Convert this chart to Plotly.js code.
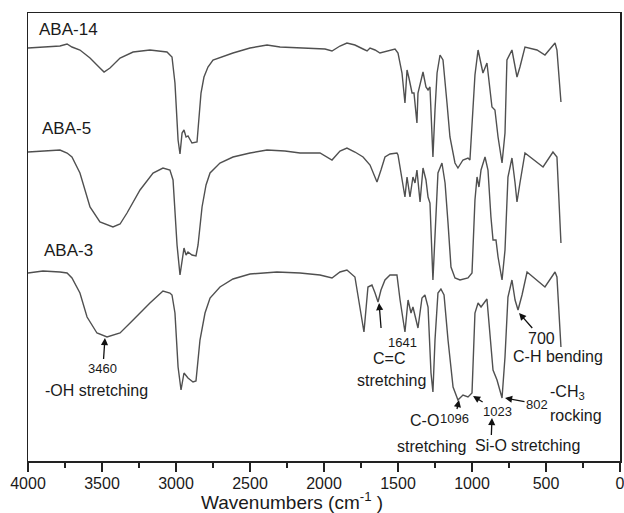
<!DOCTYPE html>
<html>
<head>
<meta charset="utf-8">
<script src="https://cdn.plot.ly/plotly-3.0.1.min.js"></script>
<style>
html,body{margin:0;padding:0;background:#fff;}
#chart{width:624px;height:513px;}
</style>
</head>
<body>
<div id="chart"></div>
<script>
// Wavenumbers (cm-1) and offset transmittance values (arbitrary units)
const wn14 = [4000,3851,3784,3736,3703,3649,3581,3514,3486,3446,3378,3290,3176,3061,3027,3007,2993,2986,2973,2959,2946,2932,2919,2892,2858,2845,2831,2811,2784,2750,2615,2500,2385,2297,2162,2061,1993,1946,1892,1845,1791,1736,1709,1689,1655,1622,1574,1520,1500,1473,1453,1439,1426,1405,1392,1372,1365,1351,1331,1311,1297,1284,1264,1250,1236,1216,1196,1169,1149,1115,1095,1061,1027,1014,993,980,959,926,899,865,845,824,797,777,764,730,696,676,642,561,507,439,426,399];
const aba14 = [413,414,415,417,414,411,403,393,389,393,403,409,411,409,404,378,344,321,307,328,331,324,325,318,319,344,368,384,394,401,408,413,416,414,413,413,412,410,415,418,416,412,410,413,411,408,410,412,408,388,358,391,383,368,368,338,368,378,389,374,371,374,304,351,388,406,401,358,324,298,293,301,303,301,354,386,411,388,398,354,351,324,298,328,401,411,384,394,414,411,406,418,411,359];

const wn5 = [4000,3851,3784,3736,3703,3649,3615,3581,3514,3426,3378,3331,3243,3155,3088,3041,3020,3007,2993,2973,2959,2946,2932,2919,2892,2865,2851,2838,2824,2797,2770,2703,2615,2500,2385,2264,2162,2027,1946,1892,1845,1791,1736,1689,1642,1615,1588,1554,1507,1500,1473,1453,1439,1419,1399,1385,1372,1351,1331,1311,1297,1284,1264,1250,1230,1203,1182,1162,1142,1115,1081,1027,1000,980,966,953,939,912,892,872,858,838,824,797,777,757,730,709,696,676,642,520,453,426,399];
const aba5 = [309,310,311,308,304,288,271,254,239,234,237,248,271,288,293,291,281,251,216,186,201,213,206,209,206,205,216,236,254,276,288,298,304,308,311,310,308,308,301,310,313,309,304,296,279,291,304,307,308,306,284,264,284,264,284,278,291,259,293,281,264,258,181,228,288,298,278,238,194,183,181,183,188,261,284,274,291,304,291,244,221,221,204,181,211,284,303,278,259,278,308,294,309,304,218];

const wn3 = [4000,3899,3784,3736,3703,3649,3601,3534,3466,3378,3290,3176,3088,3041,3027,3007,2986,2966,2946,2919,2885,2865,2838,2804,2770,2703,2615,2500,2318,2162,2027,1946,1892,1845,1791,1757,1730,1703,1676,1655,1635,1615,1588,1554,1507,1486,1453,1432,1412,1399,1385,1365,1338,1318,1297,1277,1264,1250,1230,1210,1189,1162,1128,1095,1061,1027,1000,980,959,939,899,878,858,831,797,777,757,730,709,689,662,628,588,507,439,426,399];
const aba3 = [188,190,189,188,183,168,144,128,124,128,141,158,170,168,166,148,94,71,88,83,79,80,121,148,163,174,182,187,189,188,186,183,189,191,184,154,129,174,176,168,159,171,181,186,186,161,129,161,148,154,146,133,163,166,154,88,69,121,168,172,166,121,74,61,66,64,68,148,158,154,162,121,91,81,63,104,164,181,161,151,166,189,184,174,189,184,114];

const seriesNames = ["ABA-14","ABA-5","ABA-3"];
const xTickVals = [4000,3500,3000,2500,2000,1500,1000,500,0];
const xTickText = ["4000","3500","3000","2500","2000","1500","1000","500","0"];
const xTitle = "Wavenumbers (cm<sup>-1</sup> )";

const FONT = 'Arial, "Liberation Sans", sans-serif';
const TXT = '#1a1a1a';
const lineStyle = {color:'#505050', width:1.4};

const traces = [
  {x: wn14, y: aba14, name: seriesNames[0], type:'scatter', mode:'lines', line: lineStyle},
  {x: wn5,  y: aba5,  name: seriesNames[1], type:'scatter', mode:'lines', line: lineStyle},
  {x: wn3,  y: aba3,  name: seriesNames[2], type:'scatter', mode:'lines', line: lineStyle}
];

function txt(x, y, text, size, xanchor){
  return {x:x, y:y, xref:'x', yref:'y', text:text, showarrow:false,
          font:{family:FONT, size:size, color:TXT}, xanchor:xanchor||'center', yanchor:'middle'};
}
// label attached to an arrow: arrow head at (x,y), label offset (ax, ay) in pixels
function arrLabel(x, y, ax, ay, text, size, extra){
  const a = {x:x, y:y, xref:'x', yref:'y', text:text, showarrow:true, arrowhead:2, arrowsize:1.1,
          arrowwidth:1.3, arrowcolor:'#111', ax:ax, ay:ay,
          font:{family:FONT, size:size, color:TXT}};
  return Object.assign(a, extra||{});
}

const annotations = [
  txt(3939, 432, seriesNames[0], 17, 'left'),
  txt(3919, 333, seriesNames[1], 17, 'left'),
  txt(3905, 211, seriesNames[2], 17, 'left'),
  arrLabel(3480, 123, -2, 30, '3460', 13),
  txt(3899, 71, '-OH stretching', 16, 'left'),
  arrLabel(1628, 158, 2, 25, '1641', 13, {xanchor:'left', yanchor:'top', borderpad:6}),
  txt(1561, 103, 'C=C', 16),
  txt(1541, 81, 'stretching', 16),
  txt(1324, 41, 'C-O', 16),
  arrLabel(1088, 61, -4, 18, '1096', 13),
  txt(1277, 15, 'stretching', 16),
  arrLabel(993, 65, 24, 15, '1023', 13),
  arrLabel(865, 43, -1, 27, 'Si-O', 16),
  txt(752, 16, 'stretching', 16, 'left'),
  arrLabel(777, 63, 32, 6, '802', 13),
  txt(486, 69, '-CH<sub>3</sub>', 16, 'left'),
  txt(486, 46, 'rocking', 16, 'left'),
  arrLabel(682, 148, 22, 25, '700', 16),
  txt(419, 105, 'C-H bending', 16),
  {xref:'paper', yref:'paper', x:0.446, y:-0.0895, xanchor:'center', yanchor:'middle',
   text:xTitle, showarrow:false, borderpad:0, borderwidth:0,
   font:{family:FONT, size:19, color:TXT}}
];

const layout = {
  width:624, height:513,
  margin:{l:28, r:4, t:13, b:52},
  paper_bgcolor:'#fff', plot_bgcolor:'#fff',
  showlegend:false,
  font:{family:FONT, color:TXT},
  xaxis:{
    range:[4000,0], showgrid:false, zeroline:false,
    showline:true, linecolor:'#222', linewidth:1.5, mirror:true,
    ticks:'outside', ticklen:9, tickwidth:1.5, tickcolor:'#222',
    tickmode:'array', tickvals:xTickVals, ticktext:xTickText,
    ticklabeloverflow:'allow', ticklabelstandoff:-2,
    tickfont:{family:FONT, size:16, color:TXT},
    minor:{ticks:'outside', ticklen:5, tickwidth:1.5, tickcolor:'#222', dtick:250, tick0:0, showgrid:false}
  },
  yaxis:{
    range:[0,448], showgrid:false, zeroline:false, showticklabels:false, ticks:'',
    showline:true, linecolor:'#222', linewidth:1.5, mirror:true
  },
  annotations: annotations
};

Plotly.newPlot('chart', traces, layout, {staticPlot:true, displayModeBar:false});
</script>
</body>
</html>
